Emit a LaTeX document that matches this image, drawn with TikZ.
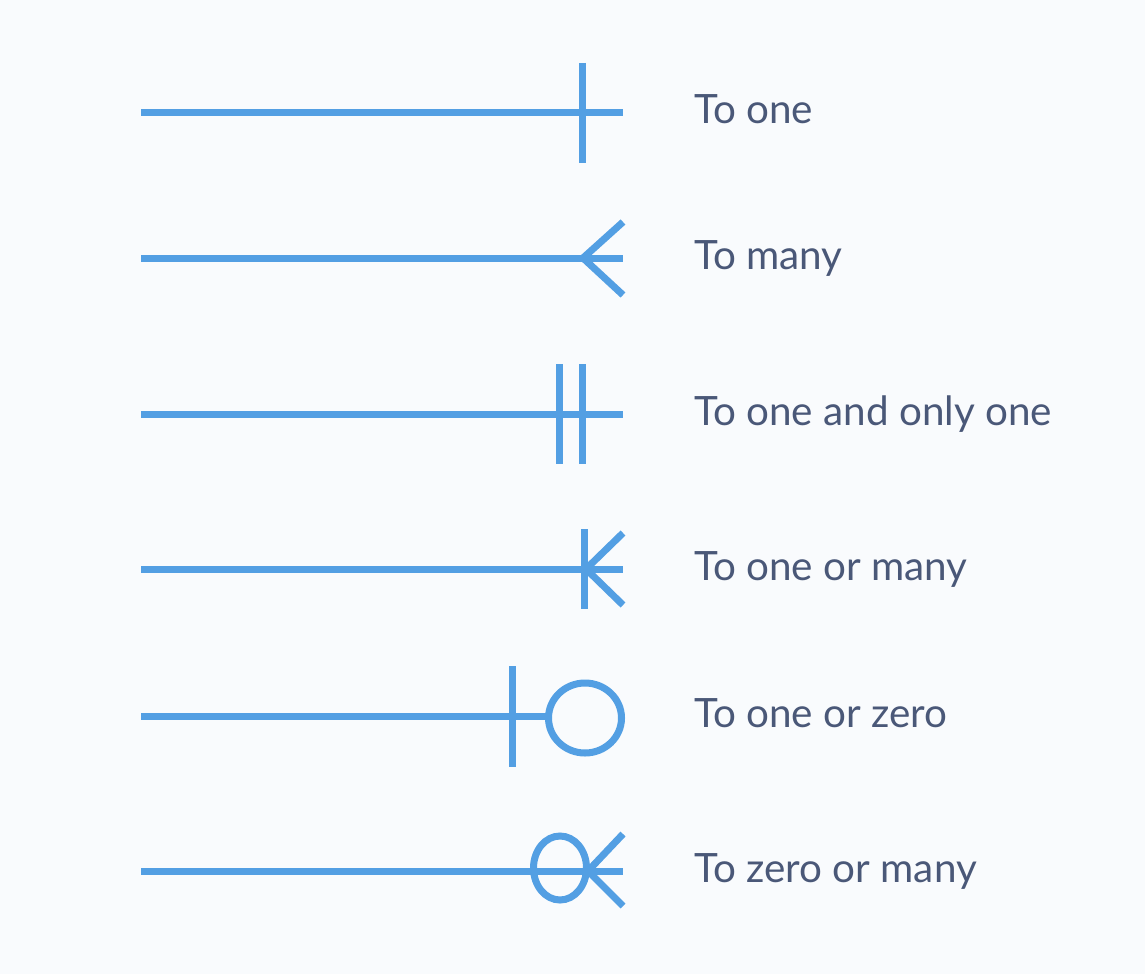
\documentclass[tikz,border=0pt]{standalone}
\usepackage{fontspec}
\setmainfont{Lato}
\definecolor{erblue}{HTML}{539FE3}
\definecolor{ertext}{HTML}{4A5878}
\definecolor{erbg}{HTML}{F9FBFD}
\begin{document}
\begin{tikzpicture}[x=1pt,y=-1pt,
  conn/.style={draw=erblue,line width=7pt,line cap=butt},
  lbl/.style={anchor=base west,inner sep=0pt,text=ertext,font=\fontsize{40.4}{48}\selectfont}]
\fill[erbg] (0,0) rectangle (1145,974);
\useasboundingbox (0,0) rectangle (1145,974);
% row 1: to one
\coordinate (a1) at (141,112); \coordinate (b1) at (623,112);
\draw[conn] (a1) -- (b1);
\coordinate (t1) at (582,63); \coordinate (u1) at (582,163);
\draw[conn] (t1) -- (u1);
\node[lbl] (l1) at (694,123) {To one};
% row 2: to many
\coordinate (a2) at (141,258); \coordinate (b2) at (623,258);
\draw[conn] (a2) -- (b2);
\coordinate (v2) at (583,258); \coordinate (p2) at (623,222); \coordinate (q2) at (623,295);
\draw[conn] (p2) -- (v2) -- (q2);
\node[lbl] (l2) at (694,269) {To many};
% row 3: to one and only one
\coordinate (a3) at (141,414); \coordinate (b3) at (623,414);
\draw[conn] (a3) -- (b3);
\coordinate (t3) at (559,364); \coordinate (u3) at (559,464);
\coordinate (t3b) at (582,364); \coordinate (u3b) at (582,464);
\draw[conn] (t3) -- (u3);
\draw[conn] (t3b) -- (u3b);
\node[lbl] (l3) at (694,425) {To one and only one};
% row 4: to one or many
\coordinate (a4) at (141,569); \coordinate (b4) at (623,569);
\draw[conn] (a4) -- (b4);
\coordinate (t4) at (584,529); \coordinate (u4) at (584,609);
\draw[conn] (t4) -- (u4);
\coordinate (v4) at (586,569); \coordinate (p4) at (623,533); \coordinate (q4) at (623,605);
\draw[conn] (p4) -- (v4) -- (q4);
\node[lbl] (l4) at (694,580) {To one or many};
% row 5: to one or zero
\coordinate (a5) at (141,716); \coordinate (b5) at (549,716);
\draw[conn] (a5) -- (b5);
\coordinate (t5) at (512,666); \coordinate (u5) at (512,767);
\draw[conn] (t5) -- (u5);
\coordinate (c5) at (585,718);
\draw[conn] (c5) ellipse [x radius=36.5,y radius=35];
\node[lbl] (l5) at (694,727) {To one or zero};
% row 6: to zero or many
\coordinate (a6) at (141,871); \coordinate (b6) at (623,871);
\draw[conn] (a6) -- (b6);
\coordinate (c6) at (560,868);
\draw[conn] (c6) ellipse [x radius=26.5,y radius=32];
\coordinate (v6) at (588,871); \coordinate (p6) at (623,834); \coordinate (q6) at (623,906);
\draw[conn] (p6) -- (v6) -- (q6);
\node[lbl] (l6) at (694,882) {To zero or many};
\end{tikzpicture}
\end{document}
